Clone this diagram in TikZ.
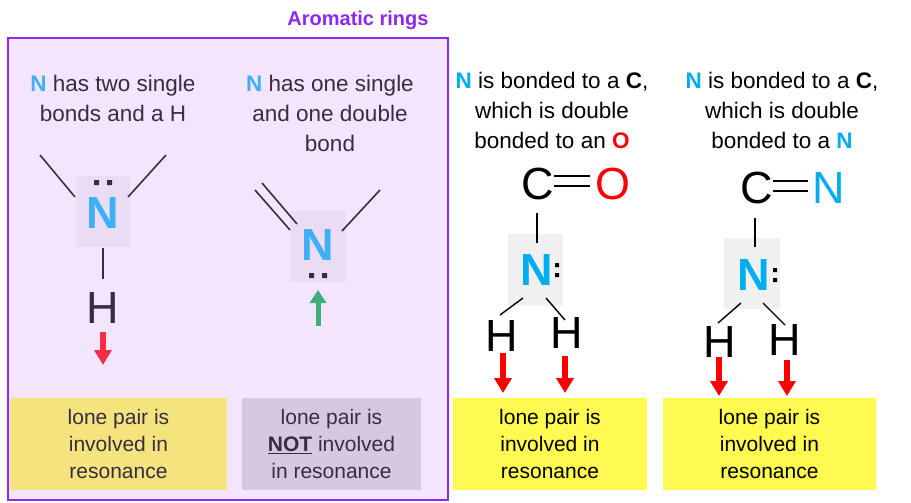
\documentclass[tikz,border=0pt]{standalone}
\usepackage{fontspec}
\setmainfont{Liberation Sans}
\usetikzlibrary{arrows.meta}
\definecolor{purp}{RGB}{140,40,240}
\definecolor{lav}{RGB}{243,230,252}
\definecolor{nbox}{RGB}{233,220,244}
\definecolor{nblue}{RGB}{64,176,246}
\definecolor{cblue}{RGB}{0,174,239}
\definecolor{txt}{RGB}{55,45,65}
\definecolor{khaki}{RGB}{245,228,125}
\definecolor{grlav}{RGB}{214,200,222}
\definecolor{yel}{RGB}{255,250,80}
\definecolor{redar}{RGB}{245,45,70}
\definecolor{grn}{RGB}{60,175,125}
\begin{document}
\begin{tikzpicture}[x=1pt,y=-1pt,
  hdr/.style={align=center,font=\fontsize{22.5}{30}\selectfont,text=txt},
  atom/.style={font=\fontsize{45}{45}\selectfont,inner sep=0pt},
  natom/.style={font=\fontsize{45}{45}\selectfont\bfseries,inner sep=0pt},
  bond/.style={line width=1.6pt,draw=txt},
  kbond/.style={line width=1.4pt,draw=black},
  note/.style={align=center,font=\fontsize{21}{27}\selectfont,text=txt,minimum height=92pt},
  arr/.style={line width=5.5pt,-{Triangle[width=17pt,length=15pt]}}]
\useasboundingbox (0,0) rectangle (911,503);
\node[font=\fontsize{20}{20}\selectfont\bfseries,text=purp] (title) at (358,20) {Aromatic rings};
\draw[purp,line width=1.5pt,fill=lav] (8,38) rectangle (448,500);
\node[hdr] (h1) at (113,98) {\textcolor{nblue}{\textbf{N}} has two single\\bonds and a H};
\node[hdr] (h2) at (330,113) {\textcolor{nblue}{\textbf{N}} has one single\\and one double\\bond};
\node[hdr,text=black] (h3) at (552,110) {\textcolor{cblue}{\textbf{N}} is bonded to a \textbf{C},\\which is double\\bonded to an \textcolor{red}{\textbf{O}}};
\node[hdr,text=black] (h4) at (782,110) {\textcolor{cblue}{\textbf{N}} is bonded to a \textbf{C},\\which is double\\bonded to a \textcolor{cblue}{\textbf{N}}};
% molecule 1
\fill[nbox] (76,176) rectangle (130,247);
\node[natom,text=nblue] (n1) at (103,213) {N};
\fill[txt] (94,180) rectangle (99,185) (107,180) rectangle (112,185);
\coordinate (a1) at (40,155); \coordinate (b1) at (166,155);
\coordinate (n1l) at (75,197); \coordinate (n1r) at (128,197);
\draw[bond] (a1) -- (n1l); \draw[bond] (b1) -- (n1r);
\node[atom,text=txt] (hh1) at (103,308) {H};
\draw[bond] (103,248) -- (103,279);
\coordinate (r1s) at (103,332); \coordinate (r1e) at (103,365);
\draw[arr,redar] (r1s) -- (r1e);
% molecule 2
\fill[nbox] (290,211) rectangle (346,282);
\node[natom,text=nblue] (n2) at (318,245) {N};
\fill[txt] (309,273) rectangle (314,278) (322,273) rectangle (327,278);
\draw[bond] (380,190) -- (342,231);
\draw[bond] (255,190) -- (290,230);
\draw[bond] (262,183) -- (297,224);
\coordinate (g1) at (318,326); \coordinate (g2) at (318,290);
\draw[arr,grn,line width=5pt,-{Triangle[width=16pt,length=13pt]}] (g1) -- (g2);
% molecule 3
\node[atom] (c3) at (538,184) {C};
\node[atom,text=red] (o3) at (613,184) {O};
\draw[kbond] (554,176) -- (590,176) (554,186) -- (590,186);
\fill[gray!12] (508,234) rectangle (563,306);
\node[natom,text=cblue] (n3) at (537,270) {N};
\fill[black] (555,263) rectangle (559,267) (555,273) rectangle (559,277);
\draw[kbond] (537,213) -- (537,243);
\node[atom] (h3a) at (502,336) {H};
\node[atom] (h3b) at (567,333) {H};
\draw[kbond] (523,298) -- (500,315) (546,298) -- (565,320);
\draw[arr,red] (503,353) -- (503,393);
\draw[arr,red] (565,356) -- (565,393);
% molecule 4
\node[atom] (c4) at (757,188) {C};
\node[atom,text=cblue] (n4b) at (829,188) {N};
\draw[kbond] (773,181) -- (808,181) (773,191) -- (808,191);
\fill[gray!12] (724,238) rectangle (780,309);
\node[natom,text=cblue] (n4) at (754,275) {N};
\fill[black] (773,268) rectangle (777,272) (773,278) rectangle (777,282);
\draw[kbond] (755,218) -- (755,247);
\node[atom] (h4a) at (720,342) {H};
\node[atom] (h4b) at (785,340) {H};
\draw[kbond] (741,303) -- (718,323) (763,303) -- (785,325);
\draw[arr,red] (719,357) -- (719,396);
\draw[arr,red] (787,360) -- (787,396);
% notes
\node[note,fill=khaki,minimum width=217pt] (t1) at (118.5,444) {lone pair is\\involved in\\resonance};
\node[note,fill=grlav,minimum width=179pt] (t2) at (331.5,444) {lone pair is\\\underline{\textbf{NOT}} involved\\in resonance};
\node[note,fill=yel,minimum width=194pt,text=black] (t3) at (550,444) {lone pair is\\involved in\\resonance};
\node[note,fill=yel,minimum width=213pt,text=black] (t4) at (769.5,444) {lone pair is\\involved in\\resonance};
\end{tikzpicture}
\end{document}
